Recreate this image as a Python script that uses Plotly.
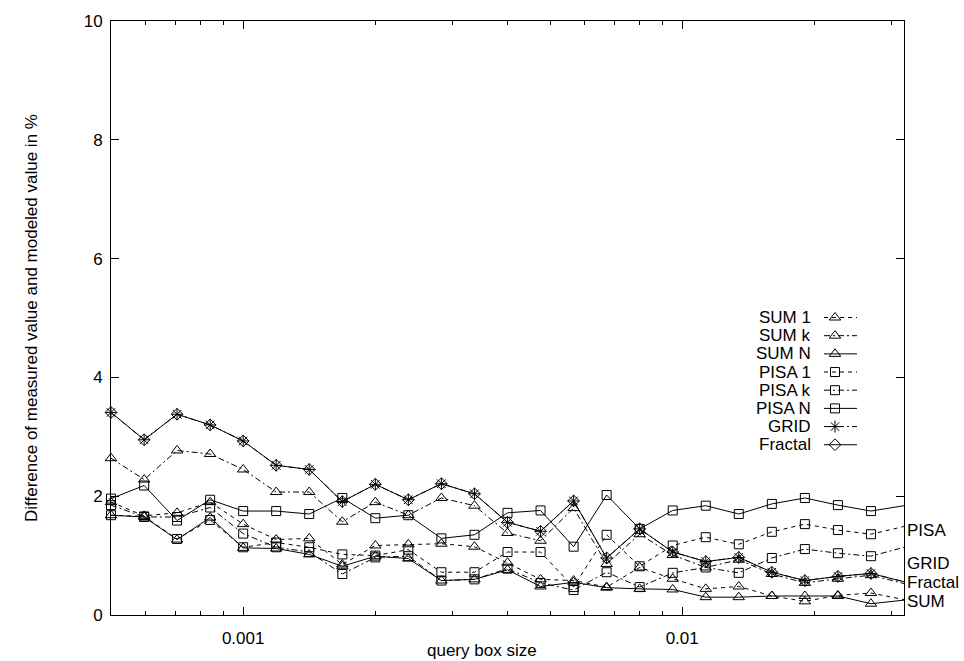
import math
import plotly.graph_objects as go

# ---------------- data ----------------
query_box_size = [0.0005, 0.000595, 0.000707, 0.000841, 0.001, 0.001189, 0.001414,
                  0.001682, 0.002, 0.002378, 0.002828, 0.003364, 0.004, 0.004757,
                  0.005657, 0.006727, 0.008, 0.009514, 0.011314, 0.013454, 0.016,
                  0.019027, 0.022627, 0.026909, 0.032]

sum_1 = [1.90, 1.67, 1.72, 1.90, 1.53, 1.27, 1.29, 0.85, 1.17, 1.19, 1.20, 1.15, 0.88,
         0.60, 0.58, 0.47, 0.80, 0.61, 0.44, 0.48, 0.32, 0.23, 0.33, 0.37, 0.26]
sum_k = [2.64, 2.28, 2.77, 2.71, 2.45, 2.07, 2.07, 1.57, 1.90, 1.68, 1.97, 1.84, 1.38,
         1.25, 1.80, 0.86, 1.36, 1.01, 0.80, 0.93, 0.69, 0.54, 0.61, 0.67, 0.53]
sum_n = [1.68, 1.65, 1.27, 1.64, 1.13, 1.12, 1.02, 0.82, 0.99, 0.95, 0.58, 0.60, 0.76,
         0.48, 0.55, 0.46, 0.44, 0.43, 0.30, 0.30, 0.32, 0.32, 0.32, 0.19, 0.25]
pisa_1 = [1.68, 1.66, 1.28, 1.60, 1.14, 1.22, 1.14, 1.02, 1.00, 1.10, 0.72, 0.72, 1.06,
          1.06, 0.47, 1.35, 0.82, 1.17, 1.31, 1.19, 1.40, 1.53, 1.43, 1.36, 1.49]
pisa_k = [1.85, 1.65, 1.65, 1.81, 1.37, 1.14, 1.06, 0.69, 0.97, 0.99, 0.58, 0.60, 0.78,
          0.54, 0.42, 0.72, 0.47, 0.71, 0.80, 0.71, 0.96, 1.11, 1.04, 0.99, 1.14]
pisa_n = [1.96, 2.18, 1.59, 1.94, 1.75, 1.75, 1.70, 1.97, 1.63, 1.68, 1.29, 1.35, 1.72,
          1.76, 1.15, 2.02, 1.45, 1.76, 1.84, 1.70, 1.87, 1.97, 1.85, 1.75, 1.84]
grid = [3.41, 2.95, 3.38, 3.20, 2.93, 2.52, 2.45, 1.91, 2.20, 1.94, 2.21, 2.04, 1.56,
        1.41, 1.92, 0.96, 1.45, 1.06, 0.90, 0.97, 0.72, 0.58, 0.65, 0.70, 0.56]
fractal = [3.41, 2.95, 3.38, 3.20, 2.93, 2.52, 2.45, 1.91, 2.20, 1.94, 2.21, 2.04, 1.56,
           1.41, 1.92, 0.96, 1.45, 1.06, 0.90, 0.97, 0.72, 0.58, 0.65, 0.70, 0.56]

series_names = ["SUM 1", "SUM k", "SUM N", "PISA 1", "PISA k", "PISA N", "GRID", "Fractal"]
series_values = [sum_1, sum_k, sum_n, pisa_1, pisa_k, pisa_n, grid, fractal]

x_tick_vals = [0.001, 0.01]
x_tick_text = ["0.001", "0.01"]
x_minor_vals = [0.0006, 0.0007, 0.0008, 0.0009, 0.002, 0.003, 0.004, 0.005, 0.006,
                0.007, 0.008, 0.009, 0.02, 0.03]
y_tick_vals = [0, 2, 4, 6, 8, 10]

end_labels = ["PISA", "GRID", "Fractal", "SUM"]
end_label_y = [1.42, 0.87, 0.54, 0.23]

x_title = "query box size"
y_title = "Difference of measured value and modeled value in %"

# ---------------- styles ----------------
FONT = dict(family="Liberation Sans, Arial, Helvetica, sans-serif", size=17, color="black")
DOT = "4px,4px"
DASHDOT = "6px,3px,2px,3px"
styles = {
    "SUM 1": ("triangle-up-open", DOT, 10),
    "SUM k": ("triangle-up-open", DASHDOT, 10),
    "SUM N": ("triangle-up-open", "solid", 10),
    "PISA 1": ("square-open", DOT, 9),
    "PISA k": ("square-open", DASHDOT, 9),
    "PISA N": ("square-open", "solid", 9),
    "GRID": ("asterisk-open", DASHDOT, 10),
    "Fractal": ("diamond-open", "solid", 9),
}

fig = go.Figure()

for name, vals in zip(series_names, series_values):
    sym, dash, ms = styles[name]
    fig.add_trace(go.Scatter(
        x=query_box_size, y=vals, mode="lines+markers", name=name,
        line=dict(color="black", width=1, dash=dash),
        marker=dict(symbol=sym, size=ms, color="black",
                    line=dict(color="black", width=1)),
        showlegend=False, cliponaxis=False,
    ))

# ---------------- custom gnuplot-style key (hidden overlay axes) ----------------
PLOT_L, PLOT_R, PLOT_T, PLOT_B = 111, 904, 16, 615
W = PLOT_R - PLOT_L
H = PLOT_B - PLOT_T


def px(xp):
    return (xp - PLOT_L) / W


def py(yp):
    return (PLOT_B - yp) / H


key_text_right = px(813)
key_line = [px(824), px(857)]
key_mark = px(835)
key_top = 315
key_step = 18.33

annotations = []
for r, name in enumerate(series_names):
    sym, dash, ms = styles[name]
    yy = py(key_top + r * key_step)
    fig.add_trace(go.Scatter(
        x=key_line, y=[yy, yy], xaxis="x2", yaxis="y2", mode="lines",
        line=dict(color="black", width=1, dash=dash), showlegend=False,
        hoverinfo="skip", cliponaxis=False))
    fig.add_trace(go.Scatter(
        x=[key_mark], y=[yy], xaxis="x2", yaxis="y2", mode="markers",
        marker=dict(symbol=sym, size=ms, color="black", line=dict(color="black", width=1)),
        showlegend=False, hoverinfo="skip", cliponaxis=False))
    annotations.append(dict(
        text=name, xref="paper", yref="paper", x=key_text_right, y=yy,
        xanchor="right", yanchor="middle", showarrow=False, font=FONT))

for txt, yv in zip(end_labels, end_label_y):
    annotations.append(dict(
        text=txt, xref="paper", yref="y", x=1, y=yv, xanchor="left", yanchor="middle",
        xshift=1, showarrow=False, font=FONT))

# axis titles placed like gnuplot's labels
annotations.append(dict(text=x_title, xref="paper", yref="paper", x=px(482), y=py(651),
                        xanchor="center", yanchor="middle", showarrow=False, font=FONT))
annotations.append(dict(text=y_title, xref="paper", yref="paper", x=px(31), y=0.5,
                        xanchor="center", yanchor="middle", textangle=-90,
                        showarrow=False, font=FONT))

axis_common = dict(showline=True, linecolor="black", linewidth=1, mirror="allticks",
                   ticks="inside", tickcolor="black", showgrid=False, zeroline=False,
                   tickfont=FONT)

fig.update_layout(
    width=964, height=661,
    margin=dict(l=PLOT_L, r=964 - PLOT_R, t=PLOT_T, b=661 - PLOT_B),
    paper_bgcolor="white", plot_bgcolor="white",
    font=FONT,
    xaxis=dict(type="log", range=[math.log10(query_box_size[0]), math.log10(query_box_size[-1])],
               tickvals=x_tick_vals, ticktext=x_tick_text, ticklen=8, ticklabelstandoff=8,
               minor=dict(tickvals=x_minor_vals, ticks="inside", ticklen=4, tickcolor="black",
                          showgrid=False),
               **axis_common),
    yaxis=dict(range=[0, 10], tickvals=y_tick_vals, ticklen=8, ticklabelstandoff=4,
               **axis_common),
    xaxis2=dict(overlaying="x", range=[0, 1], visible=False, anchor="y2"),
    yaxis2=dict(overlaying="y", range=[0, 1], visible=False, anchor="x2"),
    annotations=annotations,
    showlegend=False,
)

fig.write_html("out.html")
